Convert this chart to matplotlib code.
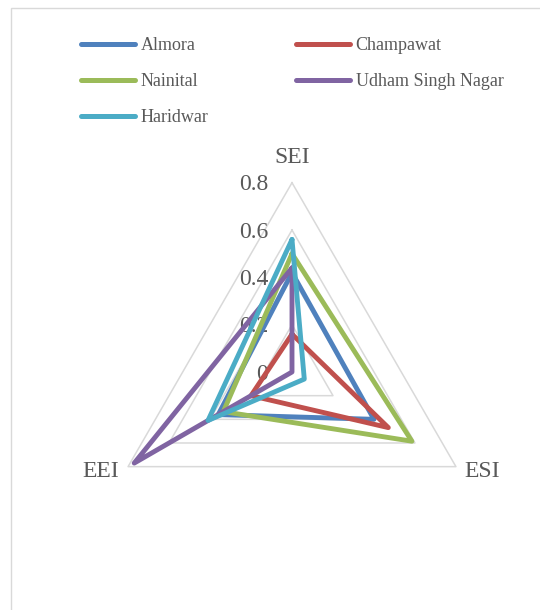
import numpy as np
import matplotlib
matplotlib.use("Agg")
import matplotlib.pyplot as plt
from matplotlib.lines import Line2D
from matplotlib.patches import Rectangle
from matplotlib.transforms import offset_copy

plt.rcParams['font.family'] = ['Liberation Serif', 'DejaVu Serif']

# ---- data ----
axes_names = ["SEI", "ESI", "EEI"]
districts = ["Almora", "Champawat", "Nainital", "Udham Singh Nagar", "Haridwar"]
almora = [0.42, 0.40, 0.36]
champawat = [0.16, 0.47, 0.20]
nainital = [0.50, 0.585, 0.335]
udham = [0.44, 0.00, 0.77]
haridwar = [0.56, 0.06, 0.41]
series = [almora, champawat, nainital, udham, haridwar]
colors = ["#4F81BD", "#C0504D", "#9BBB59", "#8064A2", "#4BACC6"]
levels = [0, 0.2, 0.4, 0.6, 0.8]
level_labels = ["0", "0.2", "0.4", "0.6", "0.8"]

W, H = 540, 610
fig = plt.figure(figsize=(W / 100, H / 100), dpi=100)

cx, cy, R = 292, 372, 189.3
ax = fig.add_axes([(cx - R) / W, (H - cy - R) / H, 2 * R / W, 2 * R / H],
                  projection='polar')
ax.set_theta_zero_location('N')
ax.set_theta_direction(-1)
ax.set_ylim(0, 0.8)
ax.grid(False)
ax.set_xticks([])
ax.set_yticks([])
ax.spines['polar'].set_visible(False)
ax.patch.set_alpha(0)

n = len(axes_names)
theta = np.linspace(0, 2 * np.pi, n, endpoint=False)
theta_c = np.append(theta, theta[0])

gridc = "#D9D9D9"
for lv in levels[1:]:
    ax.plot(theta_c, [lv] * (n + 1), color=gridc, lw=1.1, zorder=1, clip_on=False)

for vals, col in zip(series, colors):
    v = list(vals) + [vals[0]]
    ax.plot(theta_c, v, color=col, lw=3.5, solid_joinstyle='round',
            solid_capstyle='round', zorder=3, clip_on=False)

txtc = "#595959"
for lv, lab in zip(levels, level_labels):
    ax.text(0, lv, lab, transform=offset_copy(ax.transData, fig, x=-24, y=-2, units='dots'),
            ha='right', va='center', fontsize=17, color=txtc, zorder=1)

offs = [(0, 25, 'center'), (8, -5, 'left'), (-9, -5, 'right')]
for t, name, (dx, dy, ha) in zip(theta, axes_names, offs):
    ax.text(t, 0.8, name, transform=offset_copy(ax.transData, fig, x=dx, y=dy, units='dots'),
            ha=ha, va='center', fontsize=17, color=txtc)

# legend (row-wise order like the reference)
handles = [Line2D([], [], color=c, lw=3.6, solid_capstyle='round') for c in colors]
order = [0, 2, 4, 1, 3]
fig.legend([handles[i] for i in order], [districts[i] for i in order],
           ncol=2, loc='upper left', bbox_to_anchor=(81 / W, 1 - 37 / H),
           frameon=False, fontsize=13, handlelength=3.0, handletextpad=0.3,
           columnspacing=4.85, labelspacing=1.05, borderpad=0, borderaxespad=0,
           labelcolor=txtc)

# chart border (partially visible)
fig.add_artist(Rectangle((11 / W, -0.1), 2, 1 - 8 / H + 0.1, transform=fig.transFigure,
                         fill=False, ec=gridc, lw=1))

fig.savefig("out.png", dpi=100)
